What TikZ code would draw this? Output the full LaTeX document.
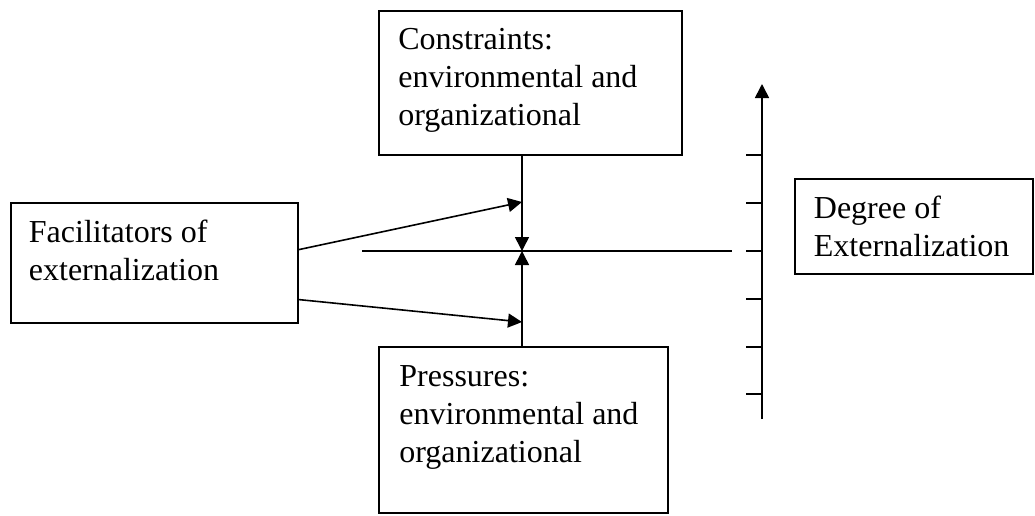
\documentclass[tikz,border=0pt]{standalone}
\usepackage{fontspec}
\setmainfont{Liberation Serif}
\usetikzlibrary{calc, arrows.meta}

\tikzset{
	box/.style={draw, line width=1pt, inner sep=0pt},
	txt/.style={anchor=north west, inner sep=0pt, align=left, font=\fontsize{16}{19}\selectfont},
	line/.style={line width=0.8pt},
	arr/.style={line width=0.8pt, -{Triangle[length=7pt, width=7pt]}}
}

\begin{document}
\begin{tikzpicture}[x=0.5pt, y=-0.5pt]
	\useasboundingbox (0,0) rectangle (1035,515);
	
	% boxes
	\node [box, minimum width=151.5pt, minimum height=72pt] (cons) at (530.5,83) {};
	\node [box, minimum width=143.5pt, minimum height=60pt] (fac) at (154.5,263) {};
	\node [box, minimum width=144.5pt, minimum height=83pt] (pres) at (523.5,430) {};
	\node [box, minimum width=119pt, minimum height=47.5pt] (deg) at (914,226.5) {};
	
	% texts
	\node [txt] (constxt) at ([shift={(20,12)}]cons.north west) {\strut Constraints:\\environmental and\\organizational};
	\node [txt] (factxt) at ([shift={(18.5,13.5)}]fac.north west) {\strut Facilitators of\\externalization};
	\node [txt] (prestxt) at ([shift={(21,13.5)}]pres.north west) {\strut Pressures:\\environmental and\\organizational};
	\node [txt] (degtxt) at ([shift={(19.5,13.5)}]deg.north west) {\strut Degree of\\Externalization};
	
	% meeting point
	\coordinate (hub) at (522,251);
	\coordinate (hl) at (362,251);
	\coordinate (hr) at (732,251);
	\coordinate (ua) at (522,202);
	\coordinate (la) at (522,322);
	
	\draw [line] (hl) -- (hr);
	\draw [arr] (cons.south -| hub) -- (hub);
	\draw [arr] (pres.north -| hub) -- (hub);
	\draw [arr] ($(fac.north east)!0.39!(fac.south east)$) -- (ua);
	\draw [arr] ($(fac.north east)!0.8!(fac.south east)$) -- (la);
	
	% scale
	\coordinate (ax0) at (762,419);
	\coordinate (ax1) at (762,84);
	\draw [arr] (ax0) -- (ax1);
	\foreach \ty in {155,203,251,299,347,394}
		\draw [line] (746,\ty) -- (ax0 |- 0,\ty);
\end{tikzpicture}
\end{document}
